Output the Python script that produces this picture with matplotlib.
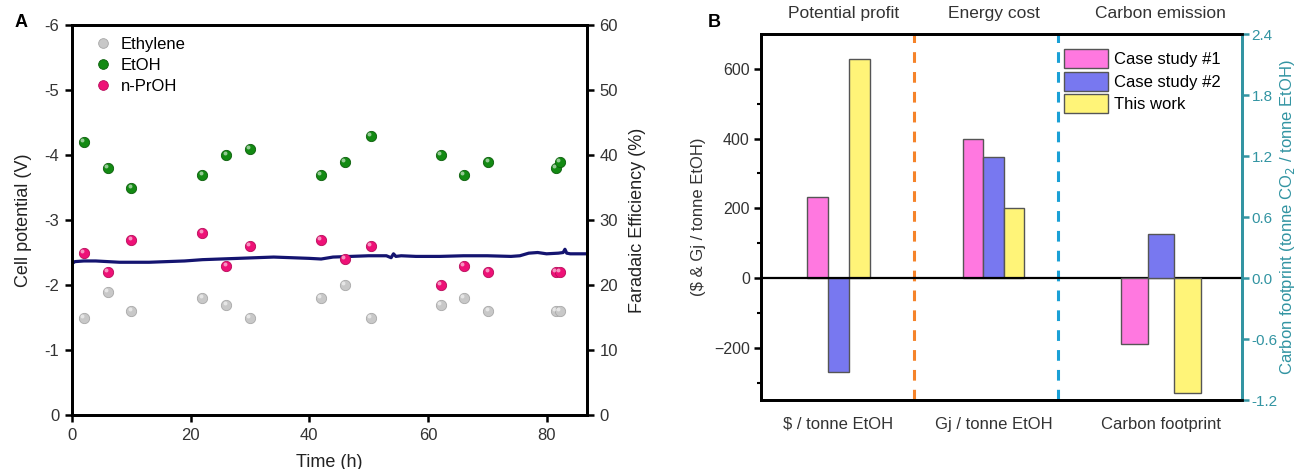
import matplotlib
matplotlib.use("Agg")
import matplotlib.pyplot as plt
from matplotlib.transforms import offset_copy
from matplotlib.patches import Patch
from matplotlib.lines import Line2D

plt.rcParams['font.family'] = ['Liberation Sans', 'DejaVu Sans']

# ---------------- Panel A data ----------------
sample_time = [2, 6, 10, 22, 26, 30, 42, 46, 50.4, 62.2, 66, 70.2, 81.6, 82.2]
fe_ethylene = [15, 19, 16, 18, 17, 15, 18, 20, 15, 17, 18, 16, 16, 16]
fe_etoh = [42, 38, 35, 37, 40, 41, 37, 39, 43, 40, 37, 39, 38, 39]
fe_nproh = [25, 22, 27, 28, 23, 26, 27, 24, 26, 20, 23, 22, 22, 22]

pot_time = [0, 0.5, 2, 4, 6, 8, 10, 13, 16, 19, 22, 25, 28, 31, 34, 37, 40, 42, 44,
            47, 50, 53, 53.8, 54.2, 54.6, 55.5, 58, 62, 66, 70, 74, 75.5, 77, 78.5,
            80, 82, 82.8, 83.1, 83.4, 84, 86, 87]
pot_val = [-2.33, -2.36, -2.37, -2.37, -2.36, -2.35, -2.35, -2.35, -2.36, -2.37,
           -2.39, -2.40, -2.41, -2.42, -2.43, -2.42, -2.41, -2.40, -2.43, -2.44,
           -2.45, -2.45, -2.42, -2.48, -2.44, -2.45, -2.44, -2.44, -2.45, -2.45,
           -2.44, -2.45, -2.49, -2.50, -2.48, -2.49, -2.50, -2.55, -2.49, -2.48,
           -2.48, -2.48]

# ---------------- Panel B data ----------------
categories = ['$ / tonne EtOH', 'Gj / tonne EtOH', 'Carbon footprint']
headers = ['Potential profit', 'Energy cost', 'Carbon emission']
series_names = ['Case study #1', 'Case study #2', 'This work']
profit = [233, -270, 628]          # $ / tonne EtOH
energy = [400, 348, 200]           # Gj / tonne EtOH
carbon = [-0.65, 0.43, -1.13]      # tonne CO2 / tonne EtOH

bar_colors = ['#ff78e0', '#7878f0', '#fff478']

fig = plt.figure(figsize=(12.97, 4.69), dpi=100)

# ================= Panel A =================
axA = fig.add_axes([0.0555, 0.1151, 0.397, 0.8316])
axA.plot(pot_time, pot_val, color='#141470', lw=2.3, zorder=2)
axA.set_xlim(0, 86.8)
axA.set_ylim(0, -6)
axA.set_xticks([0, 20, 40, 60, 80])
axA.set_yticks([0, -1, -2, -3, -4, -5, -6])
axA.set_yticklabels(['0', '-1', '-2', '-3', '-4', '-5', '-6'])
axA.set_xlabel('Time (h)', fontsize=13, color='#222222', labelpad=8)
axA.set_ylabel('Cell potential (V)', fontsize=13, color='#222222', labelpad=9)

axA2 = axA.twinx()
axA2.set_ylim(0, 60)
axA2.set_yticks([0, 10, 20, 30, 40, 50, 60])
axA2.set_ylabel('Faradaic Efficiency (%)', fontsize=13, color='#222222', labelpad=8)

for ax in (axA, axA2):
    for s in ax.spines.values():
        s.set_linewidth(2.0)
    ax.tick_params(direction='out', length=5, width=1.8, labelsize=12,
                   labelcolor='#333333', pad=4)

series = [(fe_ethylene, '#c8c8c8', '#a8a8a8', 'Ethylene'),
          (fe_etoh, '#138a13', '#0b5e0b', 'EtOH'),
          (fe_nproh, '#ee1177', '#b80c5a', 'n-PrOH')]
hl = offset_copy(axA2.transData, fig=fig, x=-1.2, y=1.2, units='points')
for vals, fc, ec, name in series:
    axA2.scatter(sample_time, vals, s=55, color=fc, edgecolors=ec, linewidths=0.6,
                 zorder=3, clip_on=False)
    axA2.scatter(sample_time, vals, s=8, color='white', alpha=0.55, linewidths=0,
                 zorder=4, transform=hl, clip_on=False)

handlesA = [Line2D([], [], ls='none', marker='o', markersize=7, markerfacecolor=fc,
                   markeredgecolor=ec, markeredgewidth=0.6) for _, fc, ec, _ in series]
axA2.legend(handlesA, [n for *_, n in series], loc='upper left', frameon=False,
            fontsize=12, handlelength=1.0, handletextpad=0.55, labelspacing=0.35,
            bbox_to_anchor=(0.025, 0.995), borderaxespad=0.2)

fig.text(0.011, 0.952, 'A', fontsize=13, fontweight='bold', ha='left', va='center')

# ================= Panel B =================
axB = fig.add_axes([0.5867, 0.1471, 0.3709, 0.7804])
teal = '#3294a2'
centers = [0, 1, 2.08]
widths = [0.136, 0.132, 0.172]
ratio = 2.4 / 700.0

axB.set_xlim(-0.5, 2.603)
axB.set_ylim(-350, 700)
axB2 = axB.twinx()
axB2.set_ylim(-350 * ratio, 700 * ratio)

groups = [profit, energy]
for gi, vals in enumerate(groups):
    w = widths[gi]
    for si, v in enumerate(vals):
        axB.bar(centers[gi] + (si - 1) * w, v, width=w, color=bar_colors[si],
                edgecolor='#555555', linewidth=1.0, zorder=3)
w = widths[2]
for si, v in enumerate(carbon):
    axB2.bar(centers[2] + (si - 1) * w, v, width=w, color=bar_colors[si],
             edgecolor='#555555', linewidth=1.0, zorder=3)

axB.axhline(0, color='black', lw=1.6, zorder=4)
axB.axvline(0.487, color='#f5832a', lw=2.2, ls=(0, (3.5, 3)), zorder=2)
axB.axvline(1.416, color='#1aa0d6', lw=2.2, ls=(0, (3.5, 3)), zorder=2)

axB.set_xticks(centers)
axB.set_xticklabels(categories)
axB.tick_params(axis='x', length=0, pad=12, labelsize=12, labelcolor='#333333')
axB.set_yticks([-200, 0, 200, 400, 600])
axB.set_yticks([-300, -100, 100, 300, 500], minor=True)
axB.tick_params(axis='y', which='major', direction='out', length=5, width=1.8,
                labelsize=11.5, labelcolor='#333333', pad=3)
axB.tick_params(axis='y', which='minor', direction='out', length=3, width=1.5)
axB.set_ylabel('($ & Gj / tonne EtOH)', fontsize=12, color='#333333', labelpad=6)

axB2.set_yticks([-1.2, -0.6, 0.0, 0.6, 1.2, 1.8, 2.4])
axB2.set_yticklabels(['-1.2', '-0.6', '0.0', '0.6', '1.2', '1.8', '2.4'])
axB2.tick_params(axis='y', direction='out', length=5, width=1.8, labelsize=11,
                 labelcolor=teal, color=teal, pad=2)
axB2.set_ylabel('Carbon footprint (tonne CO$_2$ / tonne EtOH)', fontsize=12,
                color=teal, labelpad=0)

for ax in (axB, axB2):
    for s in ax.spines.values():
        s.set_linewidth(2.0)
    ax.spines['right'].set_color(teal)
axB2.spines['left'].set_color('black')

for c, h in zip([0.03, 1.0, 2.08], headers):
    axB.text(c, 1.035, h, transform=axB.get_xaxis_transform(), ha='center',
             va='bottom', fontsize=12.5, color='#333333')

handlesB = [Patch(facecolor=c, edgecolor='#555555', linewidth=1.0) for c in bar_colors]
axB2.legend(handlesB, series_names, loc='upper left', bbox_to_anchor=(0.61, 0.985),
            frameon=False, fontsize=12, handlelength=2.6, handleheight=1.35,
            handletextpad=0.4, labelspacing=0.22, borderaxespad=0.2)

fig.text(0.546, 0.952, 'B', fontsize=13, fontweight='bold', ha='left', va='center')

fig.savefig('out.png', dpi=100)
